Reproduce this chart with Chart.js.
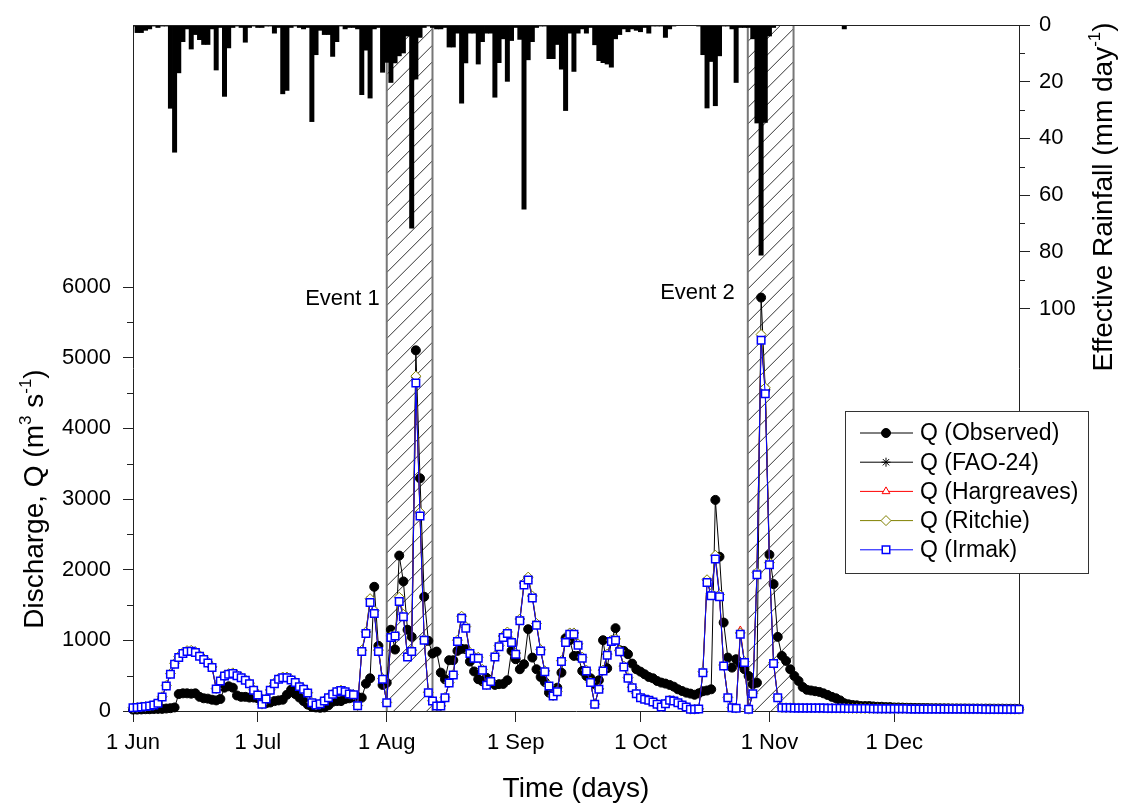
<!DOCTYPE html>
<html>
<head>
<meta charset="utf-8">
<title>Discharge and effective rainfall</title>
<script src="https://cdn.jsdelivr.net/npm/chart.js@4.4.1/dist/chart.umd.min.js"></script>
<style>
  body { margin: 0; background: #fff; }
  canvas { display: block; }
</style>
</head>
<body>
<canvas id="myChart" width="1124" height="807"></canvas>
<script>
// one value per day, day 0 = 1 Jun ... day 213 = 31 Dec
var rainfall = [
  0.5, 2.8, 2.8, 2, 1.5, 0.5, 1, 0.5, 0.5, 29.5,
  45, 17, 6, 1.5, 8.6, 3.5, 5.3, 7, 7, 1.5,
  16, 1, 25.3, 8.2, 1, 0.5, 1, 6.2, 1, 0.5,
  1, 1, 0.5, 0.5, 3, 1, 24.4, 23.2, 1, 0.5,
  1, 1.5, 1, 34.2, 10.6, 2, 3.5, 3.5, 11.2, 6,
  0.5, 1.5, 1, 1, 1.5, 24.7, 9, 25.9, 1.5, 1,
  16.8, 13.3, 20.4, 13.5, 11, 10, 4, 71.8, 19.2, 4.5,
  1, 0.5, 1, 1.5, 1.5, 1, 7.9, 7.9, 3, 27.7,
  13.5, 3, 3, 13.9, 6, 3, 3, 25.6, 13.4, 5,
  20, 5.6, 1, 5.2, 65.1, 12.4, 6, 1, 0.5, 0.5,
  12, 12, 7, 15.7, 30.3, 3, 16.5, 3, 1.5, 3,
  1, 7.1, 12.7, 13.4, 13.9, 15, 5, 3.5, 1.5, 2.5,
  1.5, 2, 2.5, 1, 3, 0.5, 0.5, 0.5, 4.5, 1.5,
  0.5, 0, 0, 0, 0, 0, 0.5, 10.6, 29.4, 13,
  28.6, 11, 0.5, 0.5, 1.5, 20.4, 1, 1, 1, 5,
  34.7, 81.3, 34.5, 4, 1, 0, 0, 0, 0, 0,
  0, 0, 0, 0, 0, 0, 0, 0, 0, 0,
  0, 1.5, 0, 0, 0, 0, 0, 0, 0, 0,
  0, 0, 0, 0, 0, 0, 0, 0, 0, 0,
  0, 0, 0, 0, 0, 0, 0, 0, 0, 0,
  0, 0, 0, 0, 0, 0, 0, 0, 0, 0,
  0, 0, 0, 0
];

var qObserved = [
  20, 20, 22, 25, 25, 28, 30, 30, 35, 40,
  50, 240, 250, 250, 245, 250, 200, 180, 175, 160,
  150, 170, 330, 350, 330, 220, 200, 200, 190, 190,
  180, 120, 110, 120, 140, 150, 160, 230, 300, 240,
  190, 140, 90, 60, 50, 45, 50, 80, 130, 140,
  140, 170, 180, 190, 200, 189, 387, 463, 1758, 922,
  369, 400, 1150, 870, 2200, 1834, 1150, 1050, 5105, 3294,
  1617, 993, 813, 841, 543, 449, 719, 719, 851, 880,
  875, 700, 560, 450, 420, 470, 420, 369, 380, 383,
  435, 851, 733, 591, 662, 1158, 756, 591, 482, 411,
  260, 240, 330, 543, 1031, 1002, 780, 780, 567, 496,
  463, 378, 435, 1002, 605, 992, 1172, 860, 851, 804,
  671, 591, 557, 520, 482, 463, 425, 402, 388, 369,
  345, 307, 283, 260, 246, 230, 250, 280, 290, 307,
  2988, 2184, 1252, 756, 614, 733, 671, 591, 496, 378,
  400, 5852, 4550, 2212, 1796, 1049, 780, 709, 591, 496,
  425, 340, 300, 290, 280, 270, 250, 227, 200, 180,
  150, 110, 95, 85, 80, 70, 70, 70, 65, 60,
  60, 55, 55, 50, 50, 48, 46, 45, 44, 43,
  42, 41, 40, 40, 39, 38, 38, 37, 37, 36,
  36, 35, 35, 35, 34, 34, 34, 33, 33, 33,
  32, 32, 32, 31
];

var qFao = [
  45, 50, 57, 62, 70, 85, 112, 200, 360, 526,
  670, 765, 822, 850, 854, 836, 784, 736, 688, 620,
  316, 430, 502, 527, 537, 506, 478, 440, 392, 297,
  230, 96, 172, 297, 392, 455, 478, 478, 446, 407,
  349, 311, 258, 120, 86, 104, 144, 191, 239, 277,
  293, 277, 243, 232, 76, 855, 1115, 1580, 1410, 858,
  456, 120, 1058, 1080, 1600, 1360, 780, 855, 4720, 2800,
  1015, 264, 144, 72, 72, 192, 400, 515, 998, 1335,
  1190, 826, 758, 758, 586, 371, 422, 778, 922, 1056,
  1112, 984, 816, 1296, 1805, 1880, 1620, 1233, 864, 565,
  360, 216, 278, 710, 984, 1100, 1100, 945, 758, 576,
  408, 96, 312, 576, 802, 998, 1015, 850, 633, 470,
  335, 249, 192, 169, 154, 130, 96, 58, 106, 154,
  144, 120, 86, 58, 25, 25, 31, 552, 1850, 1655,
  2190, 1640, 648, 192, 48, 41, 1100, 696, 25, 249,
  1955, 5310, 4560, 2095, 682, 192, 48, 46, 46, 45,
  44, 43, 43, 42, 42, 41, 41, 40, 40, 40,
  39, 38, 37, 36, 35, 35, 34, 34, 33, 33,
  33, 32, 32, 32, 31, 31, 31, 30, 30, 30,
  30, 29, 29, 29, 29, 28, 28, 28, 28, 28,
  27, 27, 27, 27, 27, 26, 26, 26, 26, 26,
  26, 25, 25, 25
];

var qHargreaves = [
  45, 50, 57, 62, 70, 85, 111, 199, 357, 523,
  665, 760, 818, 845, 849, 831, 779, 732, 684, 617,
  314, 427, 499, 523, 533, 503, 475, 437, 389, 295,
  228, 95, 171, 295, 389, 452, 475, 475, 443, 404,
  347, 309, 256, 119, 85, 103, 143, 190, 237, 275,
  291, 275, 241, 231, 75, 848, 1105, 1560, 1395, 850,
  452, 119, 1050, 1072, 1575, 1346, 773, 848, 4690, 2785,
  1008, 262, 143, 71, 71, 190, 397, 511, 990, 1325,
  1181, 819, 752, 752, 581, 368, 419, 772, 915, 1048,
  1104, 976, 810, 1286, 1793, 1866, 1609, 1224, 857, 561,
  357, 214, 276, 704, 976, 1094, 1094, 938, 752, 571,
  405, 95, 309, 571, 796, 990, 1008, 843, 628, 466,
  332, 247, 190, 167, 153, 129, 95, 57, 105, 153,
  143, 119, 85, 57, 24, 24, 30, 547, 1835, 1643,
  2175, 1628, 643, 190, 47, 40, 1140, 690, 24, 247,
  1940, 5280, 4530, 2082, 676, 190, 47, 45, 45, 44,
  44, 43, 43, 42, 42, 41, 41, 40, 40, 40,
  39, 38, 37, 36, 35, 35, 34, 34, 33, 33,
  33, 32, 32, 32, 31, 31, 31, 30, 30, 30,
  30, 29, 29, 29, 29, 28, 28, 28, 28, 28,
  27, 27, 27, 27, 27, 26, 26, 26, 26, 26,
  26, 25, 25, 25
];

var qRitchie = [
  46, 51, 58, 63, 71, 86, 113, 202, 362, 530,
  675, 770, 827, 855, 859, 840, 788, 740, 692, 624,
  318, 433, 505, 530, 540, 509, 481, 443, 394, 299,
  231, 97, 173, 299, 394, 458, 481, 481, 449, 410,
  351, 313, 260, 121, 87, 105, 145, 193, 241, 279,
  295, 279, 245, 234, 77, 860, 1120, 1590, 1418, 862,
  458, 121, 1062, 1085, 1610, 1368, 783, 860, 4740, 2815,
  1020, 265, 145, 72, 72, 193, 402, 518, 1003, 1342,
  1196, 830, 762, 762, 589, 373, 424, 782, 926, 1061,
  1118, 989, 820, 1302, 1812, 1895, 1628, 1239, 868, 568,
  362, 217, 279, 713, 989, 1105, 1105, 950, 762, 579,
  410, 97, 313, 579, 806, 1003, 1020, 854, 636, 472,
  337, 250, 193, 170, 155, 131, 97, 58, 106, 155,
  145, 121, 87, 58, 25, 25, 31, 555, 1858, 1662,
  2205, 1648, 651, 193, 48, 41, 1105, 699, 25, 250,
  1962, 5330, 4575, 2100, 685, 193, 48, 46, 46, 45,
  44, 43, 43, 42, 42, 41, 41, 40, 40, 40,
  39, 38, 37, 36, 35, 35, 34, 34, 33, 33,
  33, 32, 32, 32, 31, 31, 31, 30, 30, 30,
  30, 29, 29, 29, 29, 28, 28, 28, 28, 28,
  27, 27, 27, 27, 27, 26, 26, 26, 26, 26,
  26, 25, 25, 25
];

var qIrmak = [
  45, 50, 57, 62, 70, 85, 110, 198, 355, 520,
  662, 756, 813, 841, 845, 827, 775, 728, 680, 614,
  312, 425, 496, 520, 530, 500, 472, 435, 387, 293,
  227, 95, 170, 293, 387, 449, 472, 472, 440, 402,
  345, 307, 255, 118, 85, 103, 142, 189, 236, 274,
  290, 274, 240, 230, 75, 841, 1096, 1536, 1380, 841,
  449, 118, 1040, 1063, 1550, 1333, 766, 841, 4641, 2761,
  1002, 260, 142, 71, 71, 189, 395, 508, 983, 1314,
  1172, 813, 747, 747, 577, 366, 416, 766, 908, 1040,
  1096, 969, 804, 1276, 1782, 1853, 1598, 1215, 851, 557,
  355, 213, 274, 699, 969, 1087, 1087, 931, 747, 567,
  402, 95, 307, 567, 790, 983, 1002, 837, 624, 463,
  330, 245, 189, 166, 152, 128, 95, 57, 104, 152,
  142, 118, 85, 57, 24, 24, 30, 543, 1820, 1631,
  2151, 1617, 638, 189, 47, 40, 1087, 685, 24, 245,
  1928, 5247, 4491, 2070, 671, 189, 47, 45, 45, 44,
  44, 43, 43, 42, 42, 41, 41, 40, 40, 40,
  39, 38, 37, 36, 35, 35, 34, 34, 33, 33,
  33, 32, 32, 32, 31, 31, 31, 30, 30, 30,
  30, 29, 29, 29, 29, 28, 28, 28, 28, 28,
  27, 27, 27, 27, 27, 26, 26, 26, 26, 26,
  26, 25, 25, 25
];

var monthDays = [0, 30, 61, 92, 122, 153, 183];
var monthLabels = ['1 Jun', '1 Jul', '1 Aug', '1 Sep', '1 Oct', '1 Nov', '1 Dec'];
var qTicks = [0, 1000, 2000, 3000, 4000, 5000, 6000];
var qMinorTicks = [500, 1500, 2500, 3500, 4500, 5500];
var rainTicks = [0, 20, 40, 60, 80, 100];
var rainMinorTicks = [10, 30, 50, 70, 90];
var eventStart = [61, 147.8];
var eventEnd = [72, 158.8];
var eventNames = ['Event 1', 'Event 2'];
var seriesNames = ['Q (Observed)', 'Q (FAO-24)', 'Q (Hargreaves)', 'Q (Ritchie)', 'Q (Irmak)'];

var FONT = '"Liberation Sans", Arial, sans-serif';
Chart.defaults.font.family = FONT;
Chart.defaults.color = '#000';

function toPoints(arr) {
    return arr.map(function (v, i) { return { x: i, y: v }; });
}

// text with superscript pieces, centred on (0,0) of the current transform
function drawRich(ctx, parts, size) {
    var w = 0;
    parts.forEach(function (p) {
        ctx.font = (p[1] ? Math.round(size * 0.62) : size) + 'px ' + FONT;
        w += ctx.measureText(p[0]).width;
    });
    var cx = -w / 2;
    parts.forEach(function (p) {
        ctx.font = (p[1] ? Math.round(size * 0.62) : size) + 'px ' + FONT;
        ctx.fillText(p[0], cx, p[1] ? -size * 0.42 : 0);
        cx += ctx.measureText(p[0]).width;
    });
}

function marker(ctx, style, r, x, y, bw) {
    if (Chart.helpers && Chart.helpers.drawPoint) {
        Chart.helpers.drawPoint(ctx, { pointStyle: style, radius: r, rotation: 0, borderWidth: bw }, x, y);
        return;
    }
    ctx.beginPath();
    ctx.arc(x, y, r, 0, Math.PI * 2);
    ctx.fill();
    ctx.stroke();
}

const hatchPlugin = {
    id: 'hatch',
    beforeDatasetsDraw(chart) {
        const ctx = chart.ctx, a = chart.chartArea, xs = chart.scales.x;
        for (let k = 0; k < eventStart.length; k++) {
            const x1 = xs.getPixelForValue(eventStart[k]);
            const x2 = xs.getPixelForValue(eventEnd[k]);
            const w = x2 - x1;
            ctx.save();
            ctx.beginPath();
            ctx.rect(x1, a.top, w, a.bottom - a.top);
            ctx.clip();
            ctx.strokeStyle = '#333';
            ctx.lineWidth = 1;
            ctx.beginPath();
            for (let c = a.top - w; c < a.bottom + w; c += 16.5) {
                ctx.moveTo(x1, c + w);
                ctx.lineTo(x2, c);
            }
            ctx.stroke();
            ctx.restore();

            ctx.save();
            ctx.strokeStyle = '#777';
            ctx.lineWidth = 2;
            ctx.beginPath();
            ctx.moveTo(x1, a.top); ctx.lineTo(x1, a.bottom);
            ctx.moveTo(x2, a.top); ctx.lineTo(x2, a.bottom);
            ctx.stroke();
            ctx.restore();
        }
    }
};

const decoPlugin = {
    id: 'deco',
    afterDraw(chart) {
        const ctx = chart.ctx, a = chart.chartArea;
        const ys = chart.scales.y, rs = chart.scales.yRain, xs = chart.scales.x;
        ctx.save();

        // top frame line
        ctx.strokeStyle = '#222';
        ctx.lineWidth = 1;
        ctx.beginPath();
        ctx.moveTo(a.left, a.top + 0.5);
        ctx.lineTo(a.right, a.top + 0.5);
        ctx.stroke();

        // minor ticks
        ctx.beginPath();
        qMinorTicks.forEach(function (v) {
            const py = Math.round(ys.getPixelForValue(v)) + 0.5;
            ctx.moveTo(a.left - 6, py); ctx.lineTo(a.left, py);
        });
        rainMinorTicks.forEach(function (v) {
            const py = Math.round(rs.getPixelForValue(v)) + 0.5;
            ctx.moveTo(a.right, py); ctx.lineTo(a.right + 6, py);
        });
        ctx.stroke();

        // event labels
        ctx.fillStyle = '#000';
        ctx.font = '22px ' + FONT;
        ctx.textAlign = 'right';
        ctx.textBaseline = 'alphabetic';
        ctx.fillText(eventNames[0], xs.getPixelForValue(eventStart[0]) - 7, 305);
        ctx.fillText(eventNames[1], xs.getPixelForValue(eventStart[1]) - 13, 299);

        // axis titles
        ctx.textAlign = 'left';
        ctx.save();
        ctx.translate(43, (ys.getPixelForValue(0) + ys.getPixelForValue(6000)) / 2);
        ctx.rotate(-Math.PI / 2);
        drawRich(ctx, [['Discharge, Q (m', 0], ['3', 1], [' s', 0], ['-1', 1], [')', 0]], 28);
        ctx.restore();

        ctx.save();
        ctx.translate(1112, 197);
        ctx.rotate(-Math.PI / 2);
        drawRich(ctx, [['Effective Rainfall (mm day', 0], ['-1', 1], [')', 0]], 28);
        ctx.restore();

        ctx.save();
        ctx.translate((a.left + a.right) / 2, 797);
        drawRich(ctx, [['Time (days)', 0]], 28);
        ctx.restore();

        // legend box
        const bx = 845, by = 411, bw = 243, bh = 162;
        ctx.fillStyle = '#fff';
        ctx.fillRect(bx, by, bw, bh);
        ctx.strokeStyle = '#333';
        ctx.lineWidth = 1;
        ctx.strokeRect(bx + 0.5, by + 0.5, bw, bh);
        const lines = chart.data.datasets.filter(function (d) { return d.type !== 'bar'; });
        lines.forEach(function (ds, i) {
            const y = by + 22 + i * 29.2;
            ctx.strokeStyle = ds.borderColor;
            ctx.lineWidth = ds.borderWidth;
            ctx.beginPath();
            ctx.moveTo(bx + 15, y); ctx.lineTo(bx + 68, y);
            ctx.stroke();
            ctx.fillStyle = ds.pointBackgroundColor;
            ctx.strokeStyle = ds.pointBorderColor;
            ctx.lineWidth = ds.pointBorderWidth;
            marker(ctx, ds.pointStyle, ds.pointRadius, bx + 41, y, ds.pointBorderWidth);
            ctx.fillStyle = '#000';
            ctx.font = '23px ' + FONT;
            ctx.textAlign = 'left';
            ctx.textBaseline = 'middle';
            ctx.fillText(ds.label, bx + 75, y + 1);
        });
        ctx.restore();
    }
};

function lineSet(label, arr, color, style, radius, fill, bw, order) {
    return {
        label: label,
        data: toPoints(arr),
        yAxisID: 'y',
        borderColor: color,
        borderWidth: 1,
        pointStyle: style,
        pointRadius: radius,
        pointBackgroundColor: fill,
        pointBorderColor: color,
        pointBorderWidth: bw,
        tension: 0,
        clip: false,
        order: order
    };
}

document.addEventListener('DOMContentLoaded', () => {
    new Chart('myChart', {
        type: 'line',
        data: {
            datasets: [
                {
                    type: 'bar',
                    label: 'Effective Rainfall',
                    data: toPoints(rainfall),
                    yAxisID: 'yRain',
                    backgroundColor: '#000',
                    borderWidth: 0,
                    barPercentage: 1.2,
                    categoryPercentage: 1,
                    order: 6
                },
                lineSet(seriesNames[0], qObserved, '#000', 'circle', 4.5, '#000', 1, 5),
                lineSet(seriesNames[1], qFao, '#000', 'star', 4.5, '#000', 1, 4),
                lineSet(seriesNames[2], qHargreaves, '#ff0000', 'triangle', 4.5, '#fff', 1, 3),
                lineSet(seriesNames[3], qRitchie, '#808000', 'rectRot', 5, '#fff', 1, 2),
                lineSet(seriesNames[4], qIrmak, '#0000ff', 'rect', 5.3, '#fff', 1.5, 1)
            ]
        },
        options: {
            responsive: false,
            animation: false,
            events: [],
            layout: { padding: { top: 25, left: 0, right: 0, bottom: 0 } },
            plugins: { legend: { display: false }, tooltip: { enabled: false } },
            scales: {
                x: {
                    type: 'linear',
                    min: 0,
                    max: 213,
                    offset: false,
                    afterBuildTicks: function (s) { s.ticks = monthDays.map(function (v) { return { value: v }; }); },
                    afterFit: function (s) { s.height = 96; s.paddingLeft = 0; s.paddingRight = 0; },
                    grid: { offset: false, drawOnChartArea: false, tickLength: 11, tickColor: '#222', color: '#222' },
                    border: { display: true, color: '#222', width: 1 },
                    ticks: {
                        autoSkip: false, maxRotation: 0, padding: 8,
                        font: { size: 22 },
                        callback: function (v) { var i = monthDays.indexOf(v); return i >= 0 ? monthLabels[i] : ''; }
                    }
                },
                y: {
                    type: 'linear',
                    position: 'left',
                    min: 0,
                    max: 9710,
                    afterBuildTicks: function (s) { s.ticks = qTicks.map(function (v) { return { value: v }; }); },
                    afterFit: function (s) { s.width = 133; s.paddingTop = 0; s.paddingBottom = 0; },
                    grid: { drawOnChartArea: false, tickLength: 10, tickColor: '#222' },
                    border: { display: true, color: '#222', width: 1 },
                    ticks: { padding: 12, font: { size: 22 }, callback: function (v) { return String(v); } }
                },
                yRain: {
                    type: 'linear',
                    position: 'right',
                    reverse: true,
                    min: 0,
                    max: 242,
                    afterBuildTicks: function (s) { s.ticks = rainTicks.map(function (v) { return { value: v }; }); },
                    afterFit: function (s) { s.width = 105; s.paddingTop = 0; s.paddingBottom = 0; },
                    grid: { drawOnChartArea: false, tickLength: 11, tickColor: '#222' },
                    border: { display: true, color: '#222', width: 1 },
                    ticks: { padding: 9, font: { size: 22 }, callback: function (v) { return String(v); } }
                }
            }
        },
        plugins: [hatchPlugin, decoPlugin]
    });
});
</script>
</body>
</html>
